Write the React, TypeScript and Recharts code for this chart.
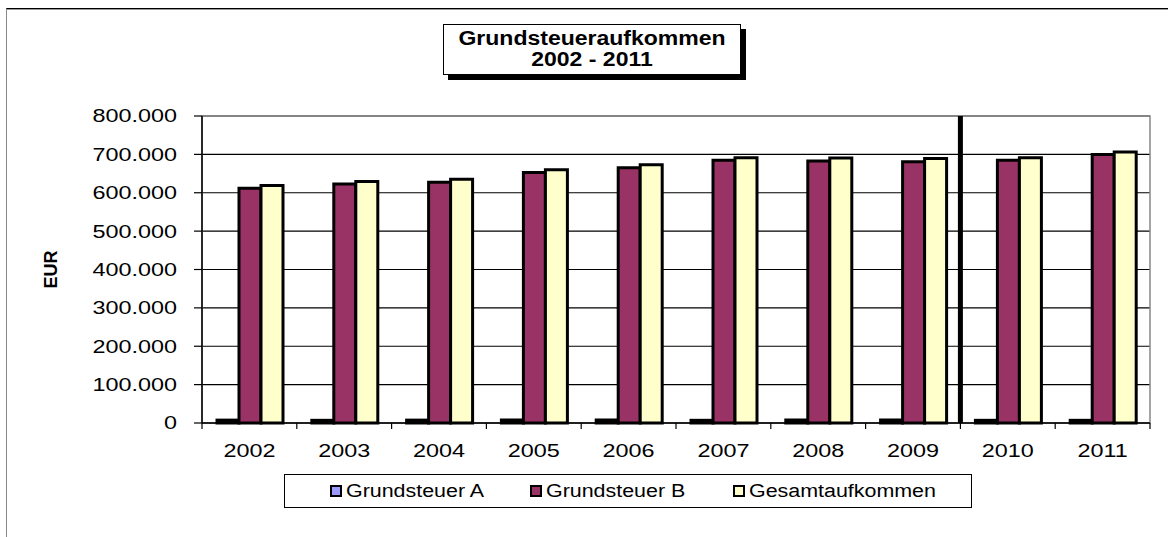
import React from "react";
import {
    BarChart,
    Bar,
    XAxis,
    YAxis,
    CartesianGrid,
    ReferenceLine,
    ReferenceArea,
} from "recharts";

const YEARS = ["2002", "2003", "2004", "2005", "2006", "2007", "2008", "2009", "2010", "2011"];
const GRUNDSTEUER_A = [7500, 7000, 7500, 7500, 8000, 7000, 8000, 8000, 7000, 7000];
const GRUNDSTEUER_B = [611500, 622500, 627500, 652500, 665000, 684500, 682500, 681000, 684500, 699500];
const GESAMT = [619000, 629500, 635000, 660000, 673000, 691500, 690500, 689000, 691500, 706500];
const Y_TICKS = [0, 100000, 200000, 300000, 400000, 500000, 600000, 700000, 800000];

const SERIES = [
    { key: "a", name: "Grundsteuer A", color: "#9999FF" },
    { key: "b", name: "Grundsteuer B", color: "#993366" },
    { key: "g", name: "Gesamtaufkommen", color: "#FFFFCC" },
];

const data = YEARS.map((year, i) => ({
    year,
    a: GRUNDSTEUER_A[i],
    b: GRUNDSTEUER_B[i],
    g: GESAMT[i],
}));

const FONT = "'Liberation Sans', Arial, sans-serif";
const PLOT_LEFT = 202;
const PLOT_RIGHT = 1150;
const BAND = (PLOT_RIGHT - PLOT_LEFT) / YEARS.length;

const fmt = (v: number) => String(v).replace(/\B(?=(\d{3})+(?!\d))/g, ".");

function YTick({ x, y, payload }: any) {
    return (
        <g transform={`translate(${x - 17},${y})`}>
            <text
                transform="scale(1.3,1)"
                textAnchor="end"
                dy="0.36em"
                fontSize={18}
                fontFamily={FONT}
                fill="#000"
            >
                {fmt(payload.value)}
            </text>
        </g>
    );
}

function XTick({ x, y, payload, index }: any) {
    const left = x - BAND / 2;
    const right = x + BAND / 2;
    return (
        <g>
            <line x1={left} y1={y} x2={left} y2={y + 6} stroke="#000" strokeWidth={1.2} />
            {index === YEARS.length - 1 && (
                <line x1={right} y1={y} x2={right} y2={y + 6} stroke="#000" strokeWidth={1.2} />
            )}
            <g transform={`translate(${x},${y + 28})`}>
                <text
                    transform="scale(1.3,1)"
                    textAnchor="middle"
                    dy="0.36em"
                    fontSize={18}
                    fontFamily={FONT}
                    fill="#000"
                >
                    {payload.value}
                </text>
            </g>
        </g>
    );
}

function EurLabel({ viewBox }: any) {
    const cy = viewBox.y + viewBox.height / 2;
    return (
        <text
            transform={`translate(51,${cy}) rotate(-90)`}
            textAnchor="middle"
            dy="0.36em"
            fontSize={18}
            fontWeight="bold"
            fontFamily={FONT}
            fill="#000"
        >
            EUR
        </text>
    );
}

function LegendBox() {
    const offsets = [45, 245, 448];
    return (
        <div
            style={{
                position: "absolute",
                left: 284,
                top: 474,
                width: 686,
                height: 32,
                border: "1.5px solid #000",
                background: "#fff",
                fontFamily: FONT,
            }}
        >
            {SERIES.map((s, i) => (
                <div
                    key={s.key}
                    style={{
                        position: "absolute",
                        left: offsets[i],
                        top: 0,
                        height: 32,
                        display: "flex",
                        alignItems: "center",
                    }}
                >
                    <span
                        style={{
                            width: 8,
                            height: 8,
                            border: "2px solid #000",
                            background: s.color,
                            display: "inline-block",
                        }}
                    />
                    <span
                        style={{
                            display: "inline-block",
                            marginLeft: 4,
                            fontSize: 18,
                            color: "#000",
                            transform: "scaleX(1.19)",
                            transformOrigin: "left center",
                            whiteSpace: "nowrap",
                        }}
                    >
                        {s.name}
                    </span>
                </div>
            ))}
        </div>
    );
}

export default function App() {
    return (
        <div
            style={{
                position: "fixed",
                left: 0,
                top: 0,
                width: 1168,
                height: 537,
                background: "#fff",
                overflow: "hidden",
                fontFamily: FONT,
            }}
        >
            {/* outer chart frame, cut off at right and bottom */}
            <div
                style={{
                    position: "absolute",
                    left: 6,
                    top: 8,
                    width: 1300,
                    height: 700,
                    borderTop: "1.5px solid #000",
                    borderLeft: "1.5px solid #888",
                    boxShadow: "inset 0 1px 0 #999",
                }}
            />
            <BarChart
                width={1168}
                height={537}
                data={data}
                margin={{ top: 116, right: 1168 - PLOT_RIGHT, bottom: 84, left: 82 }}
                barCategoryGap={15}
                barGap={0}
                style={{ position: "absolute", left: 0, top: 0 }}
            >
                <CartesianGrid vertical={false} stroke="#000" strokeWidth={1.2} />
                <ReferenceArea y1={0} y2={800000} fill="none" stroke="#888" strokeWidth={1.5} />
                <XAxis
                    dataKey="year"
                    height={30}
                    axisLine={{ stroke: "#000", strokeWidth: 1.5 }}
                    tickLine={false}
                    tickSize={0}
                    tickMargin={0}
                    interval={0}
                    tick={<XTick />}
                />
                <YAxis
                    width={120}
                    domain={[0, 800000]}
                    ticks={Y_TICKS}
                    interval={0}
                    axisLine={{ stroke: "#000", strokeWidth: 1.5 }}
                    tickLine={{ stroke: "#000", strokeWidth: 1.2 }}
                    tickSize={8}
                    tickMargin={0}
                    tick={<YTick />}
                    label={{ value: "EUR", content: <EurLabel /> }}
                />
                {SERIES.map((s) => (
                    <Bar
                        key={s.key}
                        dataKey={s.key}
                        name={s.name}
                        fill={s.color}
                        stroke="#000"
                        strokeWidth={3}
                        isAnimationActive={false}
                    />
                ))}
                <ReferenceLine x="2010" position="start" stroke="#000" strokeWidth={5} />
            </BarChart>
            <LegendBox />
            {/* title box with shadow */}
            <div
                style={{
                    position: "absolute",
                    left: 443,
                    top: 24,
                    width: 296,
                    height: 46,
                    border: "1.5px solid #000",
                    background: "#fff",
                    boxShadow: "5px 5px 0 #000",
                    textAlign: "center",
                    fontWeight: "bold",
                    fontSize: 20,
                    lineHeight: "21px",
                    paddingTop: 3,
                    boxSizing: "content-box",
                }}
            >
                <div style={{ transform: "scaleX(1.15)" }}>Grundsteueraufkommen</div>
                <div style={{ transform: "scaleX(1.15)" }}>2002 - 2011</div>
            </div>
        </div>
    );
}
